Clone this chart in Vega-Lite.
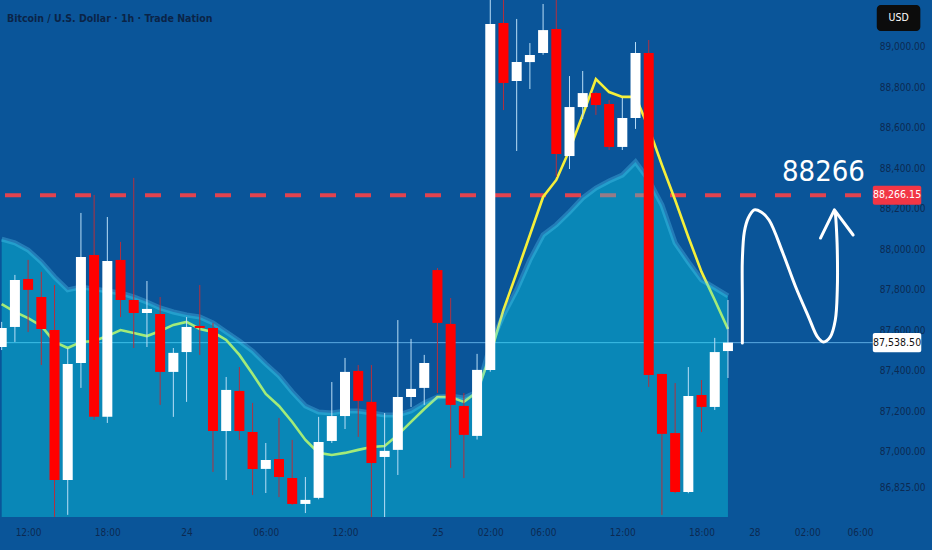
{
  "$schema": "https://vega.github.io/schema/vega-lite/v6.json",
  "width": 865,
  "height": 517,
  "autosize": {"type": "none"},
  "padding": {"left": 0, "top": 0, "right": 67, "bottom": 33},
  "background": "#0a5599",
  "config": {
    "view": {"stroke": null},
    "font": "DejaVu Sans Condensed, DejaVu Sans, sans-serif"
  },
  "title": {
    "text": "Bitcoin / U.S. Dollar · 1h · Trade Nation",
    "anchor": "start",
    "frame": "group",
    "offset": -24,
    "dx": 7,
    "fontSize": 10.5,
    "fontWeight": "bold",
    "color": "#0b2447",
    "font": "DejaVu Sans Condensed, DejaVu Sans, sans-serif"
  },
  "datasets": {
    "candles": [
      {"i": 0, "o": 87517, "h": 87641, "l": 87502, "c": 87611, "ema": 87729, "band": 88050},
      {"i": 1, "o": 87616, "h": 87873, "l": 87542, "c": 87848, "ema": 87690, "band": 88031},
      {"i": 2, "o": 87853, "h": 87947, "l": 87591, "c": 87799, "ema": 87660, "band": 87996},
      {"i": 3, "o": 87764, "h": 87888, "l": 87428, "c": 87606, "ema": 87621, "band": 87937},
      {"i": 4, "o": 87601, "h": 87823, "l": 86614, "c": 86860, "ema": 87542, "band": 87863},
      {"i": 5, "o": 86860, "h": 87512, "l": 86688, "c": 87433, "ema": 87512, "band": 87799},
      {"i": 6, "o": 87438, "h": 88179, "l": 87315, "c": 87962, "ema": 87542, "band": 87813},
      {"i": 7, "o": 87971, "h": 88268, "l": 87157, "c": 87172, "ema": 87547, "band": 87804},
      {"i": 8, "o": 87172, "h": 88159, "l": 87142, "c": 87942, "ema": 87571, "band": 87794},
      {"i": 9, "o": 87947, "h": 88036, "l": 87665, "c": 87749, "ema": 87601, "band": 87784},
      {"i": 10, "o": 87749, "h": 88352, "l": 87512, "c": 87685, "ema": 87586, "band": 87764},
      {"i": 11, "o": 87685, "h": 87843, "l": 87517, "c": 87705, "ema": 87571, "band": 87739},
      {"i": 12, "o": 87680, "h": 87764, "l": 87231, "c": 87394, "ema": 87596, "band": 87710},
      {"i": 13, "o": 87394, "h": 87512, "l": 87172, "c": 87488, "ema": 87626, "band": 87690},
      {"i": 14, "o": 87492, "h": 87665, "l": 87246, "c": 87616, "ema": 87641, "band": 87675},
      {"i": 15, "o": 87621, "h": 87823, "l": 87478, "c": 87611, "ema": 87606, "band": 87665},
      {"i": 16, "o": 87611, "h": 87636, "l": 86900, "c": 87102, "ema": 87591, "band": 87636},
      {"i": 17, "o": 87102, "h": 87369, "l": 86860, "c": 87305, "ema": 87552, "band": 87591},
      {"i": 18, "o": 87300, "h": 87418, "l": 87058, "c": 87102, "ema": 87478, "band": 87547},
      {"i": 19, "o": 87097, "h": 87241, "l": 86786, "c": 86915, "ema": 87384, "band": 87497},
      {"i": 20, "o": 86915, "h": 87043, "l": 86796, "c": 86959, "ema": 87285, "band": 87433},
      {"i": 21, "o": 86964, "h": 87167, "l": 86776, "c": 86875, "ema": 87226, "band": 87374},
      {"i": 22, "o": 86870, "h": 87058, "l": 86737, "c": 86742, "ema": 87147, "band": 87295},
      {"i": 23, "o": 86742, "h": 86875, "l": 86697, "c": 86762, "ema": 87058, "band": 87226},
      {"i": 24, "o": 86772, "h": 87172, "l": 86765, "c": 87048, "ema": 86994, "band": 87196},
      {"i": 25, "o": 87053, "h": 87344, "l": 87043, "c": 87176, "ema": 86984, "band": 87191},
      {"i": 26, "o": 87176, "h": 87463, "l": 87112, "c": 87394, "ema": 86994, "band": 87201},
      {"i": 27, "o": 87399, "h": 87428, "l": 87073, "c": 87251, "ema": 87009, "band": 87201},
      {"i": 28, "o": 87246, "h": 87428, "l": 86614, "c": 86944, "ema": 87023, "band": 87191},
      {"i": 29, "o": 86974, "h": 87191, "l": 86614, "c": 87004, "ema": 87028, "band": 87181},
      {"i": 30, "o": 87009, "h": 87650, "l": 86885, "c": 87270, "ema": 87083, "band": 87181},
      {"i": 31, "o": 87270, "h": 87557, "l": 87221, "c": 87310, "ema": 87147, "band": 87201},
      {"i": 32, "o": 87315, "h": 87478, "l": 87231, "c": 87438, "ema": 87211, "band": 87241},
      {"i": 33, "o": 87897, "h": 87907, "l": 87290, "c": 87636, "ema": 87270, "band": 87270},
      {"i": 34, "o": 87631, "h": 87759, "l": 86920, "c": 87231, "ema": 87270, "band": 87275},
      {"i": 35, "o": 87226, "h": 87290, "l": 86870, "c": 87083, "ema": 87246, "band": 87265},
      {"i": 36, "o": 87078, "h": 87483, "l": 87060, "c": 87404, "ema": 87295, "band": 87295},
      {"i": 37, "o": 87404, "h": 89255, "l": 87395, "c": 89112, "ema": 87478, "band": 87527},
      {"i": 38, "o": 89117, "h": 89245, "l": 88687, "c": 88821, "ema": 87700, "band": 87675},
      {"i": 39, "o": 88831, "h": 89137, "l": 88485, "c": 88924, "ema": 87883, "band": 87799},
      {"i": 40, "o": 88924, "h": 89018, "l": 88791, "c": 88959, "ema": 88070, "band": 87947},
      {"i": 41, "o": 88969, "h": 89211, "l": 88960, "c": 89082, "ema": 88258, "band": 88070},
      {"i": 42, "o": 89087, "h": 89245, "l": 88357, "c": 88470, "ema": 88342, "band": 88120},
      {"i": 43, "o": 88460, "h": 88855, "l": 88396, "c": 88702, "ema": 88490, "band": 88184},
      {"i": 44, "o": 88702, "h": 88880, "l": 88643, "c": 88771, "ema": 88663, "band": 88253},
      {"i": 45, "o": 88771, "h": 88775, "l": 88663, "c": 88712, "ema": 88840, "band": 88302},
      {"i": 46, "o": 88717, "h": 88737, "l": 88490, "c": 88505, "ema": 88776, "band": 88337},
      {"i": 47, "o": 88505, "h": 88747, "l": 88490, "c": 88648, "ema": 88752, "band": 88366},
      {"i": 48, "o": 88648, "h": 89023, "l": 88594, "c": 88969, "ema": 88752, "band": 88431},
      {"i": 49, "o": 88969, "h": 89033, "l": 87320, "c": 87379, "ema": 88599, "band": 88342},
      {"i": 50, "o": 87384, "h": 87384, "l": 86688, "c": 87088, "ema": 88416, "band": 88218},
      {"i": 51, "o": 87092, "h": 87339, "l": 86795, "c": 86801, "ema": 88243, "band": 88031},
      {"i": 52, "o": 86801, "h": 87418, "l": 86795, "c": 87275, "ema": 88060, "band": 87937},
      {"i": 53, "o": 87280, "h": 87354, "l": 87097, "c": 87221, "ema": 87888, "band": 87848},
      {"i": 54, "o": 87221, "h": 87562, "l": 87206, "c": 87492, "ema": 87749, "band": 87809},
      {"i": 55, "o": 87497, "h": 87749, "l": 87364, "c": 87538.5, "ema": 87606, "band": 87769}
    ],
    "lastPrice": [{"i0": 0.25, "i1": 65.97, "i2": 69.64, "im": 67.81, "v": 87538.5, "v0": 87491, "v1": 87586, "t": "87,538.50"}],
    "target": [{"i0": 0.25, "i1": 65.97, "i2": 69.64, "im": 67.81, "v": 88266.15, "v0": 88219, "v1": 88313, "t": "88,266.15"}],
    "targetNote": [{"i": 62.23, "v": 88381, "t": "88266"}],
    "curve": [
      {"k": 0, "i": 56.09, "v": 87537},
      {"k": 1, "i": 56.09, "v": 87749},
      {"k": 2, "i": 56.09, "v": 87947},
      {"k": 3, "i": 56.24, "v": 88085},
      {"k": 4, "i": 56.54, "v": 88154},
      {"k": 5, "i": 56.99, "v": 88194},
      {"k": 6, "i": 57.51, "v": 88184},
      {"k": 7, "i": 58.11, "v": 88144},
      {"k": 8, "i": 59.16, "v": 87981},
      {"k": 9, "i": 60.13, "v": 87813},
      {"k": 10, "i": 61.11, "v": 87665},
      {"k": 11, "i": 61.78, "v": 87567},
      {"k": 12, "i": 62.23, "v": 87542},
      {"k": 13, "i": 62.75, "v": 87567},
      {"k": 14, "i": 63.13, "v": 87650},
      {"k": 15, "i": 63.28, "v": 87799},
      {"k": 16, "i": 63.28, "v": 87996},
      {"k": 17, "i": 63.2, "v": 88120},
      {"k": 18, "i": 63.13, "v": 88184}
    ],
    "head": [
      {"k": 0, "i": 62.01, "v": 88055},
      {"k": 1, "i": 63.06, "v": 88194},
      {"k": 2, "i": 64.48, "v": 88070}
    ],
    "currency": [{"i0": 66.27, "i1": 69.57, "im": 67.92, "v0": 89206, "v1": 89077, "v": 89142, "t": "USD"}]
  },
  "layer": [
    {
      "data": {"name": "lastPrice"},
      "mark": {"type": "rule", "color": "#5aa8e0", "strokeWidth": 1},
      "encoding": {
        "x": {"field": "i0", "type": "quantitative", "scale": {"domain": [0.25, 65], "nice": false, "zero": false},
          "axis": {"values": [2, 8, 14, 20, 26, 33, 37, 41, 47, 53, 57, 61, 65],
            "labelExpr": "['12:00','18:00','24','06:00','12:00','25','02:00','06:00','12:00','18:00','28','02:00','06:00'][indexof([2,8,14,20,26,33,37,41,47,53,57,61,65], datum.value)]",
            "labelColor": "#0c2a52", "labelFontSize": 10, "labelPadding": 10, "ticks": false, "domain": false, "grid": false,
            "title": null, "labelOverlap": false, "labelFlush": false}},
        "x2": {"field": "i1"},
        "y": {"field": "v", "type": "quantitative", "scale": {"domain": [86677.5, 89230.6], "nice": false, "zero": false},
          "axis": {"orient": "right", "values": [89000, 88800, 88600, 88400, 88200, 88000, 87800, 87600, 87400, 87200, 87000, 86825],
            "format": ",.2f", "labelColor": "#0c2a52", "labelFontSize": 10, "labelAlign": "right", "labelPadding": 60, "ticks": false, "domain": false,
            "grid": false, "title": null, "labelOverlap": false}}
      }
    },
    {
      "data": {"name": "target"},
      "mark": {"type": "rule", "color": "#e2434f", "strokeWidth": 4, "strokeDash": [16, 19]},
      "encoding": {
        "x": {"field": "i0", "type": "quantitative", "scale": {"domain": [0.25, 65], "nice": false, "zero": false}},
        "x2": {"field": "i1"},
        "y": {"field": "v", "type": "quantitative", "scale": {"domain": [86677.5, 89230.6], "nice": false, "zero": false}}
      }
    },
    {
      "data": {"name": "candles"},
      "mark": {"type": "line", "color": "#f5ef3a", "strokeWidth": 2.6},
      "encoding": {
        "x": {"field": "i", "type": "quantitative", "scale": {"domain": [0.25, 65], "nice": false, "zero": false}},
        "y": {"field": "ema", "type": "quantitative", "scale": {"domain": [86677.5, 89230.6], "nice": false, "zero": false}}
      }
    },
    {
      "data": {"name": "candles"},
      "mark": {"type": "area", "color": "#0ae4f2", "opacity": 0.35, "clip": true},
      "encoding": {
        "x": {"field": "i", "type": "quantitative", "scale": {"domain": [0.25, 65], "nice": false, "zero": false}},
        "y": {"field": "band", "type": "quantitative", "scale": {"domain": [86677.5, 89230.6], "nice": false, "zero": false}},
        "y2": {"datum": 86677.5}
      }
    },
    {
      "data": {"name": "candles"},
      "mark": {"type": "line", "color": "#5fd8ff", "opacity": 0.3, "strokeWidth": 5, "clip": true},
      "encoding": {
        "x": {"field": "i", "type": "quantitative", "scale": {"domain": [0.25, 65], "nice": false, "zero": false}},
        "y": {"field": "band", "type": "quantitative", "scale": {"domain": [86677.5, 89230.6], "nice": false, "zero": false}}
      }
    },
    {
      "data": {"name": "candles"},
      "mark": {"type": "rule", "strokeWidth": 1, "clip": true},
      "encoding": {
        "x": {"field": "i", "type": "quantitative", "scale": {"domain": [0.25, 65], "nice": false, "zero": false}},
        "y": {"field": "l", "type": "quantitative", "scale": {"domain": [86677.5, 89230.6], "nice": false, "zero": false}},
        "y2": {"field": "h"},
        "color": {"condition": {"test": "datum.c >= datum.o", "value": "#b9def7"}, "value": "#b3303f"}
      }
    },
    {
      "data": {"name": "candles"},
      "mark": {"type": "bar", "width": 10, "clip": true},
      "encoding": {
        "x": {"field": "i", "type": "quantitative", "scale": {"domain": [0.25, 65], "nice": false, "zero": false}},
        "y": {"field": "o", "type": "quantitative", "scale": {"domain": [86677.5, 89230.6], "nice": false, "zero": false}},
        "y2": {"field": "c"},
        "color": {"condition": {"test": "datum.c >= datum.o", "value": "#ffffff"}, "value": "#ff0000"}
      }
    },
    {
      "data": {"name": "curve"},
      "mark": {"type": "line", "color": "#ffffff", "strokeWidth": 3, "interpolate": "catmull-rom", "strokeCap": "round"},
      "encoding": {
        "x": {"field": "i", "type": "quantitative", "scale": {"domain": [0.25, 65], "nice": false, "zero": false}},
        "y": {"field": "v", "type": "quantitative", "scale": {"domain": [86677.5, 89230.6], "nice": false, "zero": false}},
        "order": {"field": "k"}
      }
    },
    {
      "data": {"name": "head"},
      "mark": {"type": "line", "color": "#ffffff", "strokeWidth": 3, "strokeCap": "round", "strokeJoin": "round"},
      "encoding": {
        "x": {"field": "i", "type": "quantitative", "scale": {"domain": [0.25, 65], "nice": false, "zero": false}},
        "y": {"field": "v", "type": "quantitative", "scale": {"domain": [86677.5, 89230.6], "nice": false, "zero": false}},
        "order": {"field": "k"}
      }
    },
    {
      "data": {"name": "targetNote"},
      "mark": {"type": "text", "color": "#ffffff", "fontSize": 29, "align": "center", "baseline": "middle"},
      "encoding": {
        "x": {"field": "i", "type": "quantitative", "scale": {"domain": [0.25, 65], "nice": false, "zero": false}},
        "y": {"field": "v", "type": "quantitative", "scale": {"domain": [86677.5, 89230.6], "nice": false, "zero": false}},
        "text": {"field": "t"}
      }
    },
    {
      "data": {"name": "target"},
      "mark": {"type": "rect", "color": "#f23645", "cornerRadius": 2},
      "encoding": {
        "x": {"field": "i1", "type": "quantitative", "scale": {"domain": [0.25, 65], "nice": false, "zero": false}},
        "x2": {"field": "i2"},
        "y": {"field": "v0", "type": "quantitative", "scale": {"domain": [86677.5, 89230.6], "nice": false, "zero": false}},
        "y2": {"field": "v1"}
      }
    },
    {
      "data": {"name": "target"},
      "mark": {"type": "text", "color": "#ffffff", "fontSize": 10.5, "align": "center", "baseline": "middle"},
      "encoding": {
        "x": {"field": "im", "type": "quantitative", "scale": {"domain": [0.25, 65], "nice": false, "zero": false}},
        "y": {"field": "v", "type": "quantitative", "scale": {"domain": [86677.5, 89230.6], "nice": false, "zero": false}},
        "text": {"field": "t"}
      }
    },
    {
      "data": {"name": "lastPrice"},
      "mark": {"type": "rect", "color": "#ffffff", "cornerRadius": 2},
      "encoding": {
        "x": {"field": "i1", "type": "quantitative", "scale": {"domain": [0.25, 65], "nice": false, "zero": false}},
        "x2": {"field": "i2"},
        "y": {"field": "v0", "type": "quantitative", "scale": {"domain": [86677.5, 89230.6], "nice": false, "zero": false}},
        "y2": {"field": "v1"}
      }
    },
    {
      "data": {"name": "lastPrice"},
      "mark": {"type": "text", "color": "#111111", "fontSize": 10.5, "align": "center", "baseline": "middle"},
      "encoding": {
        "x": {"field": "im", "type": "quantitative", "scale": {"domain": [0.25, 65], "nice": false, "zero": false}},
        "y": {"field": "v", "type": "quantitative", "scale": {"domain": [86677.5, 89230.6], "nice": false, "zero": false}},
        "text": {"field": "t"}
      }
    },
    {
      "data": {"name": "currency"},
      "mark": {"type": "rect", "color": "#0c0c0c", "cornerRadius": 4},
      "encoding": {
        "x": {"field": "i0", "type": "quantitative", "scale": {"domain": [0.25, 65], "nice": false, "zero": false}},
        "x2": {"field": "i1"},
        "y": {"field": "v0", "type": "quantitative", "scale": {"domain": [86677.5, 89230.6], "nice": false, "zero": false}},
        "y2": {"field": "v1"}
      }
    },
    {
      "data": {"name": "currency"},
      "mark": {"type": "text", "color": "#ffffff", "fontSize": 10.5, "align": "center", "baseline": "middle"},
      "encoding": {
        "x": {"field": "im", "type": "quantitative", "scale": {"domain": [0.25, 65], "nice": false, "zero": false}},
        "y": {"field": "v", "type": "quantitative", "scale": {"domain": [86677.5, 89230.6], "nice": false, "zero": false}},
        "text": {"field": "t"}
      }
    }
  ]
}
